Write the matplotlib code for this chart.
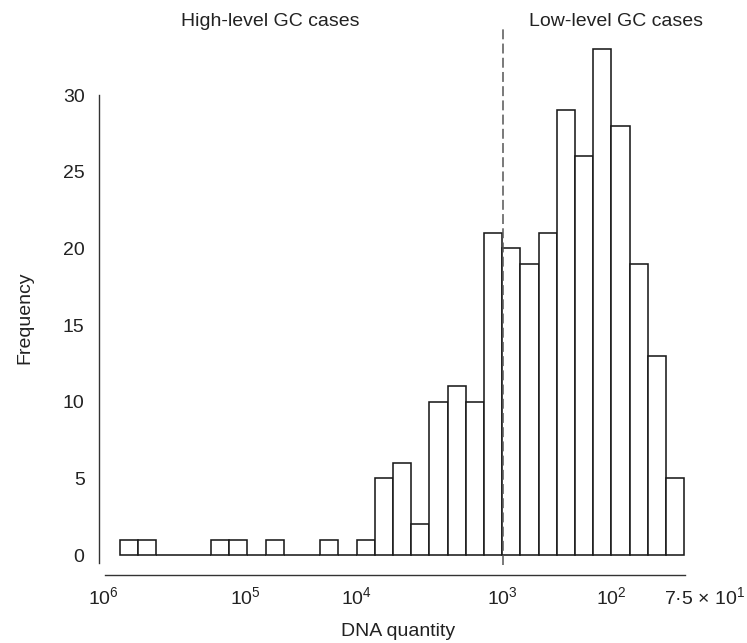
import numpy as np
import matplotlib
matplotlib.use("Agg")
import matplotlib.pyplot as plt

plt.rcParams['font.family'] = ['Liberation Sans', 'DejaVu Sans']
plt.rcParams['mathtext.fontset'] = 'custom'
plt.rcParams['mathtext.rm'] = 'Liberation Sans'
plt.rcParams['mathtext.it'] = 'Liberation Sans:italic'
plt.rcParams['mathtext.bf'] = 'Liberation Sans:bold'

# Histogram counts per bin (bins ordered from high DNA quantity to low)
counts = [1, 1, 0, 0, 0, 1, 1, 0, 1, 0, 0, 1, 0, 1, 5, 6, 2, 10, 11, 10,
          21, 20, 19, 21, 29, 26, 33, 28, 19, 13, 5]
xtick_labels = [r'$\mathregular{10^{6}}$', r'$\mathregular{10^{5}}$',
                r'$\mathregular{10^{4}}$', r'$\mathregular{10^{3}}$',
                r'$\mathregular{10^{2}}$', r'7·5 × $\mathregular{10^{1}}$']
xtick_pos = [-0.93, 6.87, 13.0, 21.0, 27.0, 32.1]
yticks = [0, 5, 10, 15, 20, 25, 30]
cutoff_pos = 21.06
region_labels = ['High-level GC cases', 'Low-level GC cases']

W, H = 747, 643
fig = plt.figure(figsize=(W / 100, H / 100), dpi=100)

def fx(px):
    return px / W

def fy(py):
    return 1 - py / H

left_px, right_px, top_px, bottom_px = 98.5, 720, 29, 565
ax = fig.add_axes([fx(left_px), fy(bottom_px), fx(right_px) - fx(left_px), fy(top_px) - fy(bottom_px)])

txt = '#222222'
ax.bar(np.arange(len(counts)), counts, width=1.0, align='edge',
       facecolor='white', edgecolor='#1a1a1a', linewidth=1.15, zorder=2)

bw = 18.2
ax.set_xlim((left_px - 120) / bw, (right_px - 120) / bw)
ax.set_ylim((555 - bottom_px) / 15.33, (555 - top_px) / 15.33)

ax.axvline(cutoff_pos, ymin=0, ymax=1, color='#555555', linewidth=1.1,
           dashes=(6.5, 2.8), zorder=3)

for s in ['top', 'right']:
    ax.spines[s].set_visible(False)
ax.spines['left'].set_bounds(-0.52, 30)
ax.spines['left'].set_color('#333333')
ax.spines['left'].set_linewidth(1.0)
ax.spines['bottom'].set_position(('outward', 7.2))
ax.spines['bottom'].set_bounds((105 - 120) / bw, (685 - 120) / bw)
ax.spines['bottom'].set_color('#333333')
ax.spines['bottom'].set_linewidth(1.0)

ax.set_yticks(yticks)
ax.set_yticklabels([str(v) for v in yticks])
ax.set_xticks(xtick_pos)
ax.set_xticklabels(xtick_labels)
ax.tick_params(axis='y', length=0, pad=10, labelsize=14, labelcolor=txt)
ax.tick_params(axis='x', length=0, pad=8, labelsize=14, labelcolor=txt)

fig.text(fx(270), fy(22), region_labels[0], ha='center', va='center', fontsize=14, color=txt)
fig.text(fx(616), fy(22), region_labels[1], ha='center', va='center', fontsize=14, color=txt)
fig.text(fx(398), fy(632), 'DNA quantity', ha='center', va='center', fontsize=14, color=txt)
fig.text(fx(25), fy(318), 'Frequency', ha='center', va='center', rotation=90, fontsize=14, color=txt)

fig.savefig('out.png', dpi=100)
